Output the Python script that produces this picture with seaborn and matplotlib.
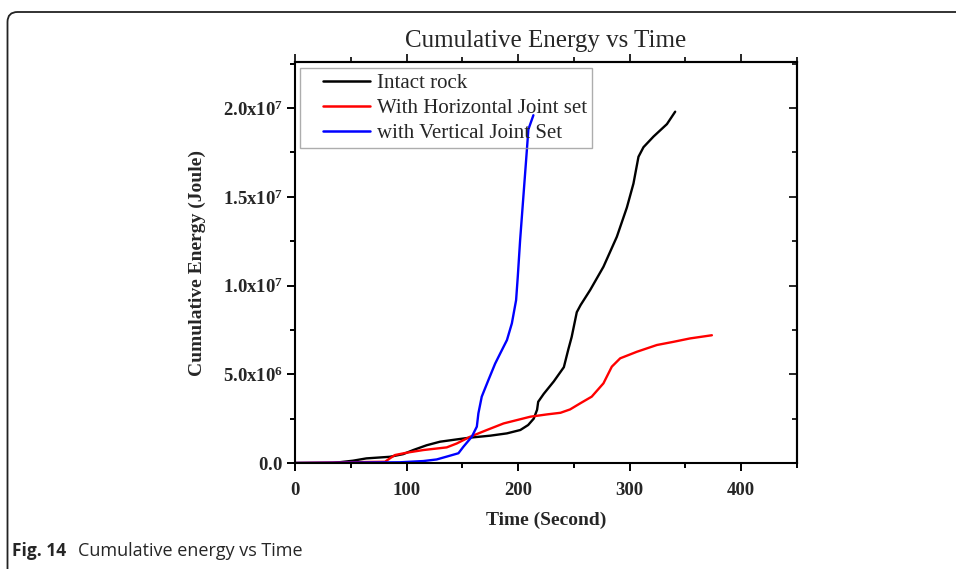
import numpy as np
import pandas as pd
import matplotlib
matplotlib.use("Agg")
import matplotlib.pyplot as plt
import seaborn as sns
from matplotlib.path import Path
from matplotlib.patches import PathPatch
from matplotlib.ticker import FixedLocator, FixedFormatter, MultipleLocator
from matplotlib.legend_handler import HandlerLine2D
from matplotlib.lines import Line2D

# ---------------- data ----------------
intact_t = [0, 34, 52, 64, 85, 97, 106, 118, 130, 145, 157, 175, 190, 202, 209, 214,
            217, 218, 223, 232, 241, 245, 248, 252.6, 256, 264.6, 276.5, 288.5, 297.5,
            303.4, 307.9, 312.4, 321.4, 333.4, 340.8]
intact_e = [0, 0, 0.13, 0.26, 0.35, 0.5, 0.73, 1.0, 1.2, 1.33, 1.43, 1.54, 1.67, 1.86, 2.14, 2.5,
            3.0, 3.45, 3.9, 4.6, 5.4, 6.4, 7.1, 8.5, 8.9, 9.75, 11.06, 12.75, 14.4,
            15.75, 17.26, 17.8, 18.4, 19.1, 19.8]

horiz_t = [0, 80.7, 85, 89.7, 100, 115, 136, 145, 157, 172, 187, 199, 211, 226, 238,
           246.6, 255.6, 266, 276.5, 284, 291.5, 306.5, 324.4, 339.3, 354, 373.7]
horiz_e = [0, 0.07, 0.26, 0.45, 0.58, 0.73, 0.88, 1.1, 1.48, 1.86, 2.23, 2.42, 2.61, 2.74, 2.83,
           3.02, 3.36, 3.74, 4.49, 5.43, 5.9, 6.27, 6.65, 6.83, 7.02, 7.2]

vert_t = [0, 94, 115, 127, 136, 146.5, 151, 158.5, 163, 164.4, 167.4, 173.4, 179.4, 184,
          190, 194.4, 198.2, 199.7, 201.8, 204.7, 207.8, 209.2, 213.7]
vert_e = [0, 0.04, 0.11, 0.2, 0.36, 0.55, 0.92, 1.48, 2.05, 2.8, 3.74, 4.68, 5.6, 6.18,
          6.93, 7.87, 9.18, 10.5, 12.56, 15.0, 17.6, 18.8, 19.6]

series_names = ["Intact rock", "With Horizontal Joint set", "with Vertical Joint Set"]
series_colors = ["black", "#ff0000", "#0000ff"]

y_tick_values = [0, 5e6, 1e7, 1.5e7, 2e7]
y_tick_labels = [r"$\mathbf{0.0}$", r"$\mathbf{5.0x10^{6}}$", r"$\mathbf{1.0x10^{7}}$",
                 r"$\mathbf{1.5x10^{7}}$", r"$\mathbf{2.0x10^{7}}$"]
x_tick_values = [0, 100, 200, 300, 400]

title_text = "Cumulative Energy vs Time"
x_label = "Time (Second)"
y_label = "Cumulative Energy (Joule)"
caption_bold = "Fig. 14"
caption_text = "Cumulative energy vs Time"

# ---------------- build table ----------------
frames = []
for name, t, e in zip(series_names, [intact_t, horiz_t, vert_t], [intact_e, horiz_e, vert_e]):
    frames.append(pd.DataFrame({"Time": t, "Energy": np.array(e) * 1e6, "Series": name}))
df = pd.concat(frames, ignore_index=True)

# ---------------- style ----------------
sns.set_theme(style="white")
plt.rcParams["font.family"] = ["Liberation Serif", "DejaVu Serif"]
plt.rcParams["mathtext.fontset"] = "custom"
plt.rcParams["mathtext.rm"] = "Liberation Serif"
plt.rcParams["mathtext.bf"] = "Liberation Serif:bold"
plt.rcParams["mathtext.it"] = "Liberation Serif:italic"

W, H = 956, 569
fig = plt.figure(figsize=(W / 100, H / 100), dpi=100)
ax = fig.add_axes([295 / W, 1 - 463 / H, (797 - 295) / W, (463 - 62) / H])

sns.lineplot(data=df, x="Time", y="Energy", hue="Series", hue_order=series_names,
             palette=series_colors, sort=False, estimator=None, linewidth=1.7, ax=ax)

ax.set_xlim(0, 450)
ax.set_ylim(0, 2.26e7)

for s in ax.spines.values():
    s.set_linewidth(1.5)
    s.set_color("black")

ax.xaxis.set_major_locator(FixedLocator(x_tick_values))
ax.xaxis.set_minor_locator(MultipleLocator(50))
ax.yaxis.set_major_locator(FixedLocator(y_tick_values))
ax.yaxis.set_major_formatter(FixedFormatter(y_tick_labels))
ax.yaxis.set_minor_locator(MultipleLocator(2.5e6))
ax.tick_params(axis="both", which="major", direction="out", length=6, width=1.4,
               labelsize=13.5, color="black", pad=3, bottom=True, left=True)
ax.tick_params(axis="both", which="minor", direction="out", length=3.5, width=1.4,
               color="black", bottom=True, left=True)
ax.tick_params(axis="x", which="major", pad=8)
for lab in ax.get_xticklabels():
    lab.set_fontweight("bold")

# top ticks (outward) and right ticks (inward)
topx = ax.secondary_xaxis("top")
topx.xaxis.set_major_locator(FixedLocator(x_tick_values))
topx.xaxis.set_minor_locator(MultipleLocator(50))
topx.tick_params(which="major", direction="out", length=6, width=1.4, labeltop=False)
topx.tick_params(which="minor", direction="out", length=3.5, width=1.4)
topx.spines["top"].set_linewidth(1.5)
righty = ax.secondary_yaxis("right")
righty.yaxis.set_major_locator(FixedLocator(y_tick_values))
righty.yaxis.set_minor_locator(MultipleLocator(2.5e6))
righty.tick_params(which="major", direction="in", length=6, width=1.4, labelright=False)
righty.tick_params(which="minor", direction="in", length=3.5, width=1.4)
righty.spines["right"].set_linewidth(1.5)

ax.set_xlabel(x_label, fontsize=14, fontweight="bold", labelpad=9)
ax.set_ylabel(y_label, fontsize=14, fontweight="bold", labelpad=12)
ax.set_title(title_text, fontsize=18, pad=11)

fs = 15
leg = ax.legend(loc="upper left", bbox_to_anchor=(0.01, 0.985), fontsize=fs,
                frameon=True, fancybox=False, borderpad=0.25, labelspacing=0.27,
                handlelength=3.13, handletextpad=0.3, borderaxespad=0,
                handler_map={Line2D: HandlerLine2D(xpad=0.85)})
leg.get_frame().set_edgecolor("#999999")
leg.get_frame().set_linewidth(1.0)
leg.get_frame().set_facecolor("none")
for line in leg.get_lines():
    line.set_linewidth(1.8)

# page frame (rounded corner at top-left)
x0, y0, r = 7.5 / W, 1 - 12 / H, 10
verts = [(x0, 0), (x0, 1 - (12 + r) / H), (x0, y0), ((7.5 + r) / W, y0), (1, y0)]
codes = [Path.MOVETO, Path.LINETO, Path.CURVE3, Path.CURVE3, Path.LINETO]
fig.add_artist(PathPatch(Path(verts, codes), transform=fig.transFigure, fill=False,
                         edgecolor="#222222", linewidth=1.3))

fig.text(12 / W, 1 - 551 / H, caption_bold, fontsize=12.5, fontweight="bold",
         family=["Open Sans", "DejaVu Sans"], va="center", ha="left")
fig.text(78 / W, 1 - 551 / H, caption_text, fontsize=13,
         family=["Open Sans", "DejaVu Sans"], va="center", ha="left")

fig.savefig("out.png", dpi=100)
